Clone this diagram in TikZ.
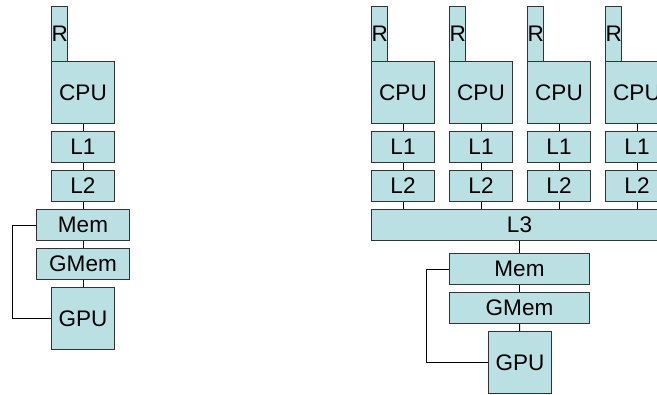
\documentclass[tikz,border=0pt]{standalone}
\usepackage{fontspec}
\setmainfont{Liberation Sans}
\definecolor{boxfill}{RGB}{187,224,227}
\newlength\pxu
\setlength\pxu{0.75pt}

\begin{document}
\begin{tikzpicture}[x=0.75pt, y=-0.75pt, line width=0.75pt,
	blk/.style={fill=boxfill, draw=black!80, inner sep=0pt, anchor=north west, font=\fontsize{16.9}{18}\selectfont},
	wide/.style={blk, minimum width=#1\pxu, minimum height=31\pxu}]
	\useasboundingbox (0,0) rectangle (657,394);
	\clip (0,0) rectangle (657,394);

	% single processor
	\node[blk, minimum width=16\pxu, minimum height=55\pxu] (rL) at (51,6) {R};
	\node[blk, minimum width=63\pxu, minimum height=62\pxu] (cpuL) at (51,61) {CPU};
	\node[wide=63] (l1L) at (51,131) {L1};
	\node[wide=63] (l2L) at (51,170) {L2};
	\node[wide=93] (memL) at (36,209) {Mem};
	\node[wide=93] (gmemL) at (36,248) {GMem};
	\node[blk, minimum width=63\pxu, minimum height=62\pxu] (gpuL) at (51,287) {GPU};

	\draw (cpuL) -- (l1L);
	\draw (l1L) -- (l2L);
	\draw (l2L) -- (memL);
	\draw (memL) -- (gmemL);
	\draw (gmemL) -- (gpuL);
	\draw (memL.west) -- ++(-24,0) |- (gpuL.west);

	% four processors
	\node[wide=296] (l3) at (371,209) {L3};
	\foreach \i/\x in {1/371, 2/449, 3/527, 4/605}{
		\node[blk, minimum width=16\pxu, minimum height=55\pxu] (r\i) at (\x,6) {R};
		\node[blk, minimum width=63\pxu, minimum height=62\pxu] (cpu\i) at (\x,61) {CPU};
		\node[wide=63] (l1\i) at (\x,131) {L1};
		\node[wide=63] (l2\i) at (\x,170) {L2};
		\draw (cpu\i) -- (l1\i);
		\draw (l1\i) -- (l2\i);
		\draw (l2\i.south) -- (l2\i.south |- l3.north);
	}
	\node[wide=140] (memR) at (449,253) {Mem};
	\node[wide=140] (gmemR) at (449,292) {GMem};
	\node[blk, minimum width=63\pxu, minimum height=62\pxu] (gpuR) at (488,331) {GPU};

	\draw (l3) -- (memR);
	\draw (memR) -- (gmemR);
	\draw (gmemR) -- (gpuR);
	\draw (memR.west) -- ++(-23,0) |- (gpuR.west);
\end{tikzpicture}
\end{document}
